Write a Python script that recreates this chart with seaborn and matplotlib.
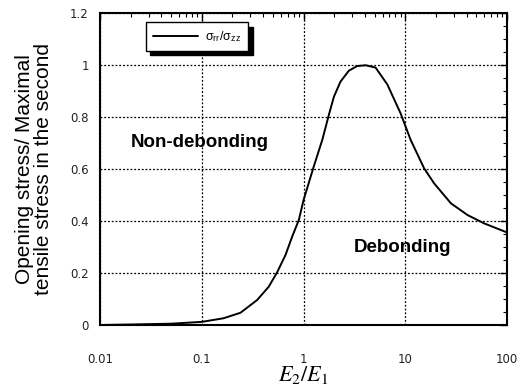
import numpy as np
import pandas as pd
import matplotlib
matplotlib.use("Agg")
import matplotlib.pyplot as plt
import seaborn as sns
from matplotlib.ticker import LogLocator, MultipleLocator, FixedLocator, FixedFormatter, NullFormatter

ratio = [0.01, 0.02, 0.05, 0.1, 0.164, 0.24, 0.35, 0.455, 0.551, 0.665, 0.774, 0.9, 1.0,
         1.26, 1.53, 1.78, 1.99, 2.31, 2.79, 3.37, 4.08, 5.11, 6.67, 9.0, 11.3, 15.3,
         19.2, 28.1, 40.9, 59.5, 100.0]
stress = [0.0, 0.002, 0.005, 0.012, 0.026, 0.047, 0.096, 0.147, 0.203, 0.269, 0.34, 0.404, 0.48,
          0.609, 0.712, 0.81, 0.878, 0.936, 0.978, 0.996, 0.999, 0.99, 0.925, 0.814, 0.712, 0.603,
          0.545, 0.468, 0.423, 0.391, 0.356]

x_ticks = [0.01, 0.1, 1, 10, 100]
x_labels = ["0.01", "0.1", "1", "10", "100"]
y_ticks = [0, 0.2, 0.4, 0.6, 0.8, 1.0, 1.2]
y_labels = ["0", "0.2", "0.4", "0.6", "0.8", "1", "1.2"]

df = pd.DataFrame({"ratio": ratio, "stress": stress})

sns.set_style("white")
plt.rcParams['font.family'] = ['Liberation Sans', 'DejaVu Sans']
plt.rcParams['mathtext.fontset'] = 'stix'
plt.rcParams['text.color'] = 'black'
plt.rcParams['axes.labelcolor'] = 'black'

fig = plt.figure(figsize=(5.2, 3.89), dpi=100)
ax = fig.add_axes([100/520, 1 - 325/389, 407/520, 312/389])

sns.lineplot(data=df, x="ratio", y="stress", ax=ax, color="black", linewidth=1.4,
             label="σ$_\\mathregular{rr}$/σ$_\\mathregular{zz}$")
ax.set_xscale("log")
ax.set_xlim(0.01, 100)
ax.set_ylim(0, 1.2)

ax.xaxis.set_major_locator(FixedLocator(x_ticks))
ax.xaxis.set_major_formatter(FixedFormatter(x_labels))
ax.xaxis.set_minor_locator(LogLocator(base=10, subs=np.arange(2, 10)))
ax.xaxis.set_minor_formatter(NullFormatter())
ax.yaxis.set_major_locator(FixedLocator(y_ticks))
ax.yaxis.set_major_formatter(FixedFormatter(y_labels))
ax.yaxis.set_minor_locator(MultipleLocator(0.05))

ax.tick_params(which="both", direction="in", top=True, right=True, colors="black",
               labelcolor="#222222")
ax.tick_params(which="major", length=5, width=1, labelsize=8.5)
ax.tick_params(which="minor", length=3, width=0.8)
ax.tick_params(axis="x", which="major", pad=20)
ax.tick_params(axis="y", which="major", pad=8)
for lab in ax.get_xticklabels() + ax.get_yticklabels():
    lab.set_family("DejaVu Sans")

ax.grid(True, which="major", linestyle=(0, (1.5, 1.5)), color="black", linewidth=0.9)
for s in ax.spines.values():
    s.set_color("black")
    s.set_linewidth(1.5)

ax.set_xlabel(r"$E_2/E_1$", fontsize=16, labelpad=-1, color="black")
ax.set_ylabel("Opening stress/ Maximal\ntensile stress in the second", fontsize=15,
              linespacing=1.05, labelpad=12, color="black")

narrow = ['Liberation Sans Narrow', 'Liberation Sans', 'DejaVu Sans']
ax.text(0.076, 0.585, "Non-debonding", transform=ax.transAxes, fontsize=13.5,
        fontweight="bold", family=narrow, va="center", ha="left", color="black")
ax.text(0.624, 0.25, "Debonding", transform=ax.transAxes, fontsize=13.5,
        fontweight="bold", family=narrow, va="center", ha="left", color="black")

leg = ax.legend(loc="upper left", bbox_to_anchor=(0.113, 0.97), frameon=True, fancybox=False,
                shadow={"color": "black", "alpha": 1.0, "ox": 3, "oy": -3}, fontsize=9,
                handlelength=3.6, handletextpad=0.6,
                borderpad=0.55, borderaxespad=0)
leg.get_frame().set_edgecolor("black")
leg.get_frame().set_linewidth(1.0)
for t in leg.get_texts():
    t.set_color("black")

fig.savefig("out.png", dpi=100)
